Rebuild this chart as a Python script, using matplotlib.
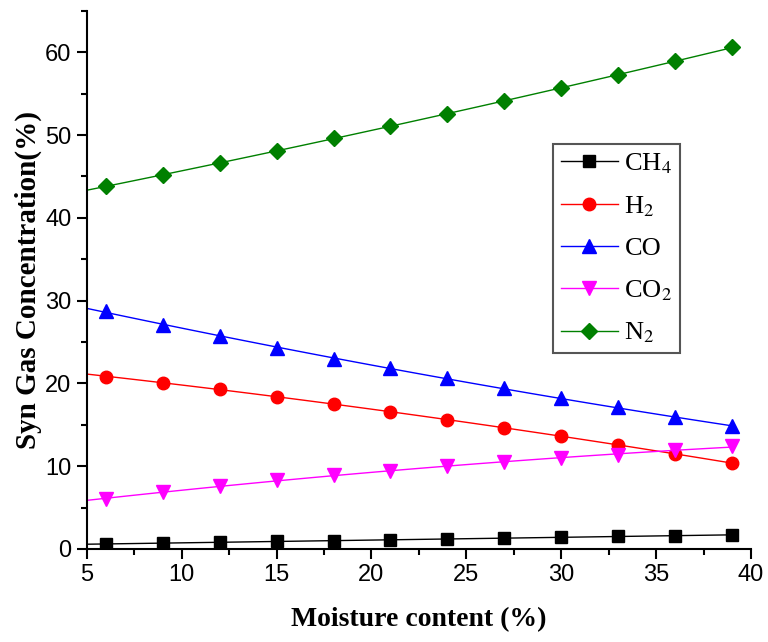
import numpy as np
import matplotlib
matplotlib.use('Agg')
import matplotlib.pyplot as plt
from matplotlib.ticker import MultipleLocator

plt.rcParams['mathtext.fontset'] = 'stix'

# moisture content (%) and syn gas concentrations (%)
moisture = [6, 9, 12, 15, 18, 21, 24, 27, 30, 33, 36, 39]
ch4 = [0.6, 0.7, 0.8, 0.9, 1.0, 1.1, 1.2, 1.3, 1.4, 1.5, 1.6, 1.7]
h2 = [20.8, 20.1, 19.3, 18.4, 17.5, 16.6, 15.6, 14.6, 13.6, 12.5, 11.5, 10.4]
co = [28.7, 27.1, 25.7, 24.3, 23.0, 21.8, 20.6, 19.4, 18.2, 17.1, 15.9, 14.8]
co2 = [6.0, 6.9, 7.6, 8.3, 8.9, 9.4, 10.0, 10.5, 11.0, 11.4, 11.9, 12.4]
n2 = [43.8, 45.2, 46.6, 48.1, 49.6, 51.1, 52.6, 54.1, 55.7, 57.3, 58.9, 60.6]

labels = ['CH$_4$', 'H$_2$', 'CO', 'CO$_2$', 'N$_2$']
series = [ch4, h2, co, co2, n2]
colors = ['black', 'red', 'blue', 'magenta', 'green']
markers = ['s', 'o', '^', 'v', 'D']
msizes = [8, 9, 9.5, 9.5, 8]

fig = plt.figure(figsize=(7.68, 6.42), dpi=100)
ax = fig.add_axes([0.113, 0.145, 0.865, 0.838])

# fitted lines drawn from the left axis edge to the last point
xfit = np.linspace(5, moisture[-1], 100)
for y, c, m, ms, lab in zip(series, colors, markers, msizes, labels):
    coef = np.polyfit(moisture, y, 2)
    ax.plot(xfit, np.polyval(coef, xfit), color=c, lw=1)
    ax.plot(moisture, y, linestyle='none', marker=m, ms=ms, color=c)
    ax.plot([], [], color=c, lw=1, marker=m, ms=ms, label=lab)

ax.set_xlim(5, 40)
ax.set_ylim(0, 65)
ax.xaxis.set_major_locator(MultipleLocator(5))
ax.xaxis.set_minor_locator(MultipleLocator(2.5))
ax.yaxis.set_major_locator(MultipleLocator(10))
ax.yaxis.set_minor_locator(MultipleLocator(5))
for s in ['top', 'right']:
    ax.spines[s].set_visible(False)
for s in ['left', 'bottom']:
    ax.spines[s].set_linewidth(1.5)
ax.tick_params(which='major', direction='out', length=7, width=1.5,
               labelsize=17, pad=4)
ax.tick_params(which='minor', direction='out', length=4, width=1.5)
for t in ax.get_xticklabels() + ax.get_yticklabels():
    t.set_fontfamily('Liberation Sans')

ax.set_xlabel('Moisture content (%)', fontsize=20, fontweight='bold',
              family='Liberation Serif', labelpad=15)
ax.set_ylabel('Syn Gas Concentration(%)', fontsize=21, fontweight='bold',
              family='Liberation Serif', labelpad=2)

leg = ax.legend(loc='upper left', bbox_to_anchor=(0.702, 0.753),
                prop={'family': 'Liberation Serif', 'size': 19},
                fancybox=False, framealpha=1, edgecolor='#555555',
                handlelength=2.15, borderpad=0.3, labelspacing=0.68,
                handletextpad=0.25, borderaxespad=0)
leg.get_frame().set_linewidth(1.5)

fig.savefig('out.png', dpi=100)
